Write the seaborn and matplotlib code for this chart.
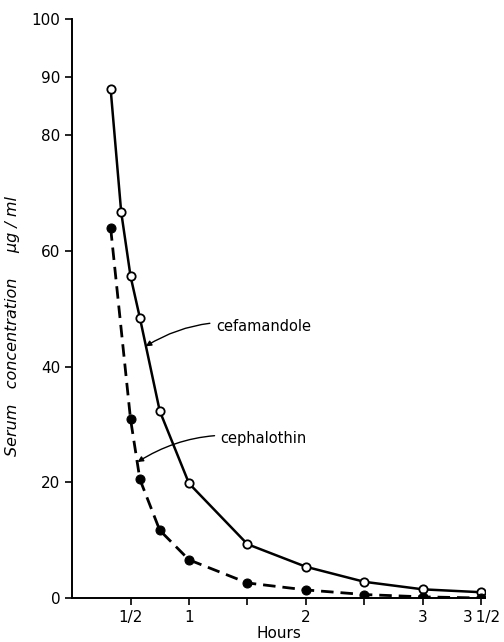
import pandas as pd
import seaborn as sns
import matplotlib.pyplot as plt

# =====================================================
# DATA
# =====================================================

hours = [0.33, 0.42, 0.50, 0.58, 0.75, 1.0, 1.5, 2.0, 2.5, 3.0, 3.5]

cefamandole = [87.9, 66.7, 55.6, 48.4, 32.3, 19.8, 9.3, 5.4, 2.8, 1.5, 1.0]

cephalothin_hours = [0.33, 0.50, 0.58, 0.75, 1.0, 1.5, 2.0, 2.5, 3.0, 3.5]
cephalothin = [63.9, 30.9, 20.5, 11.7, 6.6, 2.6, 1.4, 0.6, 0.2, 0.0]

y_ticks = [0, 20, 40, 60, 80, 90, 100]
x_ticks = [0.5, 1.0, 1.5, 2.0, 2.5, 3.0, 3.5]
x_tick_labels = ["1/2", "1", "", "2", "", "3", "3\u20091/2"]

# =====================================================
# PLOT
# =====================================================

sns.set_style("ticks")
plt.rcParams["font.family"] = ["DejaVu Sans"]
plt.rcParams["text.color"] = "black"
plt.rcParams["axes.labelcolor"] = "black"

fig = plt.figure(figsize=(5.04, 6.42), dpi=100)
ax = fig.add_axes([0.143, 0.0685, 0.819, 0.9015])

df_a = pd.DataFrame({"hours": hours, "conc": cefamandole})
df_b = pd.DataFrame({"hours": cephalothin_hours, "conc": cephalothin})

sns.lineplot(
    data=df_a, x="hours", y="conc", ax=ax,
    color="black", linewidth=1.8, marker="o", markersize=6,
    markerfacecolor="white", markeredgecolor="black", markeredgewidth=1.3,
    zorder=3
)

sns.lineplot(
    data=df_b, x="hours", y="conc", ax=ax,
    color="black", linewidth=2.0, linestyle=(0, (4.5, 2.5)), marker="o",
    markersize=6.5, markerfacecolor="black", markeredgecolor="black",
    zorder=3
)

ax.set_xlim(0, 3.53)
ax.set_ylim(0, 100)

ax.set_yticks(y_ticks)
ax.set_xticks(x_ticks)
ax.set_xticklabels(x_tick_labels)

ax.tick_params(axis="both", direction="out", length=5, width=1.2,
               labelsize=11, colors="black")

sns.despine(ax=ax)
for side in ["left", "bottom"]:
    ax.spines[side].set_linewidth(1.4)
    ax.spines[side].set_color("black")

ax.set_xlabel("Hours", fontsize=11, labelpad=1)
ax.set_ylabel("Serum   concentration     \u03bcg / ml", fontsize=11.5,
              style="italic")
ax.yaxis.set_label_coords(-0.125, 0.47)

# =====================================================
# ANNOTATIONS
# =====================================================

ax.annotate(
    "cefamandole", xy=(0.63, 43.5), xytext=(1.23, 47.0),
    fontsize=10.5, va="center", ha="left", color="black",
    arrowprops=dict(arrowstyle="-|>", color="black", lw=1.0,
                    mutation_scale=8, shrinkA=2, shrinkB=0,
                    connectionstyle="arc3,rad=0.2")
)

ax.annotate(
    "cephalothin", xy=(0.56, 23.5), xytext=(1.27, 27.5),
    fontsize=10.5, va="center", ha="left", color="black",
    arrowprops=dict(arrowstyle="-|>", color="black", lw=1.0,
                    mutation_scale=8, shrinkA=2, shrinkB=0,
                    connectionstyle="arc3,rad=0.2")
)

fig.savefig("out.png", dpi=100)
